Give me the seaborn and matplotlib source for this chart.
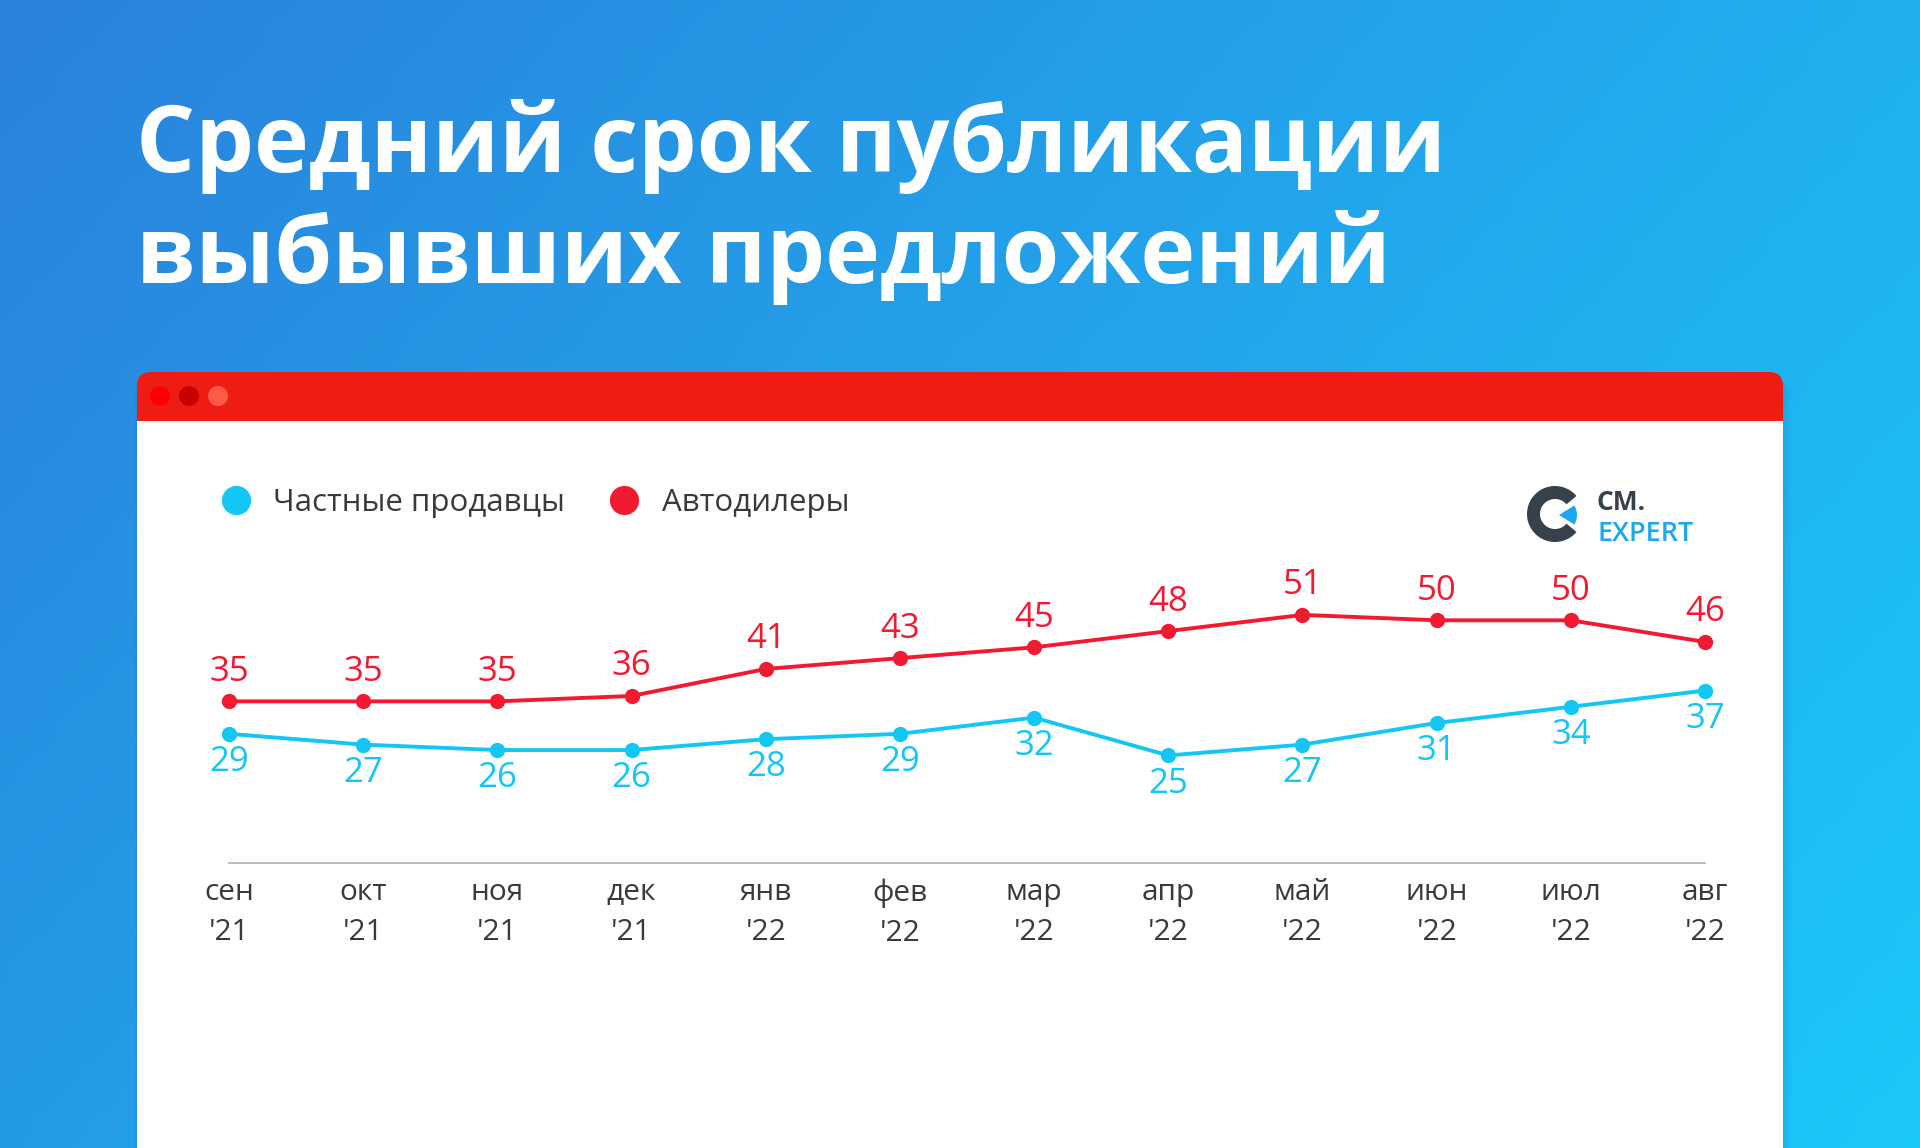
import numpy as np
import pandas as pd
import matplotlib
matplotlib.use('Agg')
import matplotlib.pyplot as plt
from matplotlib.patches import FancyBboxPatch, Rectangle, Circle, Wedge
from matplotlib.lines import Line2D
import seaborn as sns

# data
months = ['сен', 'окт', 'ноя', 'дек', 'янв', 'фев', 'мар', 'апр', 'май', 'июн', 'июл', 'авг']
years = ["'21", "'21", "'21", "'21", "'22", "'22", "'22", "'22", "'22", "'22", "'22", "'22"]
private = [29, 27, 26, 26, 28, 29, 32, 25, 27, 31, 34, 37]
dealers = [35, 35, 35, 36, 41, 43, 45, 48, 51, 50, 50, 46]
series_names = ['Частные продавцы', 'Автодилеры']

RED = '#f01a31'
CYAN = '#14c6f4'
DARK = '#3a3a3a'

sns.set_theme(style='white')
plt.rcParams['font.family'] = ['Open Sans', 'DejaVu Sans']

W, H = 1920, 1148
fig = plt.figure(figsize=(W / 100, H / 100), dpi=100)

# background in pixel coords
bg = fig.add_axes([0, 0, 1, 1])
bg.set_xlim(0, W)
bg.set_ylim(H, 0)
bg.axis('off')

c1 = np.array([0x2a, 0x82, 0xdc]) / 255
c2 = np.array([0x1b, 0xc8, 0xfa]) / 255
gx, gy = np.meshgrid(np.linspace(0, 1, 200), np.linspace(0, 1, 120))
t = np.clip(gx * 0.65 + gy * 0.35, 0, 1)[..., None]
grad = c1 * (1 - t) + c2 * t
bg.imshow(grad, extent=[0, W, H, 0], aspect='auto', zorder=0)

# title
bg.text(136, 172, 'Средний срок публикации', color='white', fontsize=67,
        fontweight='bold', va='baseline', ha='left')
bg.text(136, 283, 'выбывших предложений', color='white', fontsize=67,
        fontweight='bold', va='baseline', ha='left')

# card shadow
for i, a in enumerate([0.05, 0.04, 0.03]):
    bg.add_patch(FancyBboxPatch((137 - 2 + i * 3, 372 + 4 + i * 3), 1646 + 4, 820,
                                boxstyle='round,pad=0,rounding_size=14',
                                fc='#0a3a70', ec='none', alpha=a, zorder=1))
# card
bg.add_patch(FancyBboxPatch((137, 372), 1646, 820, boxstyle='round,pad=0,rounding_size=14',
                            fc='#ee1c12', ec='none', zorder=2))
bg.add_patch(Rectangle((137, 421), 1646, 740, fc='white', ec='none', zorder=3))
for cx, col in zip([160, 189, 218], ['#ff0000', '#c90000', '#ff5a48']):
    bg.add_patch(Circle((cx, 396), 10, fc=col, ec='none', zorder=4))

# logo
bg.add_patch(Wedge((1555, 514), 28, 40, 320, width=13, fc='#36414b', ec='none', zorder=4))
bg.add_patch(Wedge((1559, 515), 18, -32, 32, fc='#1ca8f0', ec='none', zorder=4))
bg.text(1596, 510, 'CM.', color='#36414b', fontsize=19, fontweight='bold',
        va='baseline', ha='left', zorder=4)
bg.text(1597, 541, 'EXPERT', color='#1ca8f0', fontsize=19.5, fontweight='semibold',
        va='baseline', ha='left', zorder=4)

# chart
ax = fig.add_axes([229 / W, 1 - 863 / H, 1476 / W, 300 / H])
ax.set_facecolor('none')

df = pd.DataFrame({
    'x': list(range(len(months))) * 2,
    'value': private + dealers,
    'series': [series_names[0]] * len(months) + [series_names[1]] * len(months),
})
sns.lineplot(data=df, x='x', y='value', hue='series',
             palette={series_names[0]: CYAN, series_names[1]: RED},
             marker='o', markersize=11, markeredgewidth=0, linewidth=2.8,
             legend=False, ax=ax, clip_on=False)

for i, v in enumerate(dealers):
    ax.annotate(str(v), (i, v), xytext=(0, 9), textcoords='offset points',
                ha='center', va='bottom', color=RED, fontsize=25)
for i, v in enumerate(private):
    ax.annotate(str(v), (i, v), xytext=(0, -8), textcoords='offset points',
                ha='center', va='top', color=CYAN, fontsize=25)

ax.set_xlim(0, 11)
ax.set_ylim(5.1, 60.6)
ax.set_xticks(range(len(months)))
ax.set_xticklabels([f'{m}\n{y}' for m, y in zip(months, years)], linespacing=1.5)
ax.tick_params(axis='x', length=0, pad=11, labelsize=21.5, labelcolor=DARK)
ax.set_yticks([])
ax.set_xlabel('')
ax.set_ylabel('')
for s in ['top', 'right', 'left']:
    ax.spines[s].set_visible(False)
ax.spines['bottom'].set_color('#a8b0b8')
ax.spines['bottom'].set_linewidth(1.2)

handles = [Line2D([], [], ls='none', marker='o', markersize=21, color=CYAN, mec='none'),
           Line2D([], [], ls='none', marker='o', markersize=21, color=RED, mec='none')]
fig.legend(handles, series_names, loc='center left', bbox_to_anchor=(220 / W, 1 - 503 / H),
           ncol=2, frameon=False, fontsize=22.5, handlelength=1.0, handletextpad=0.7,
           columnspacing=1.4, borderpad=0, borderaxespad=0, labelcolor=DARK)

fig.savefig('out.png', dpi=100)
